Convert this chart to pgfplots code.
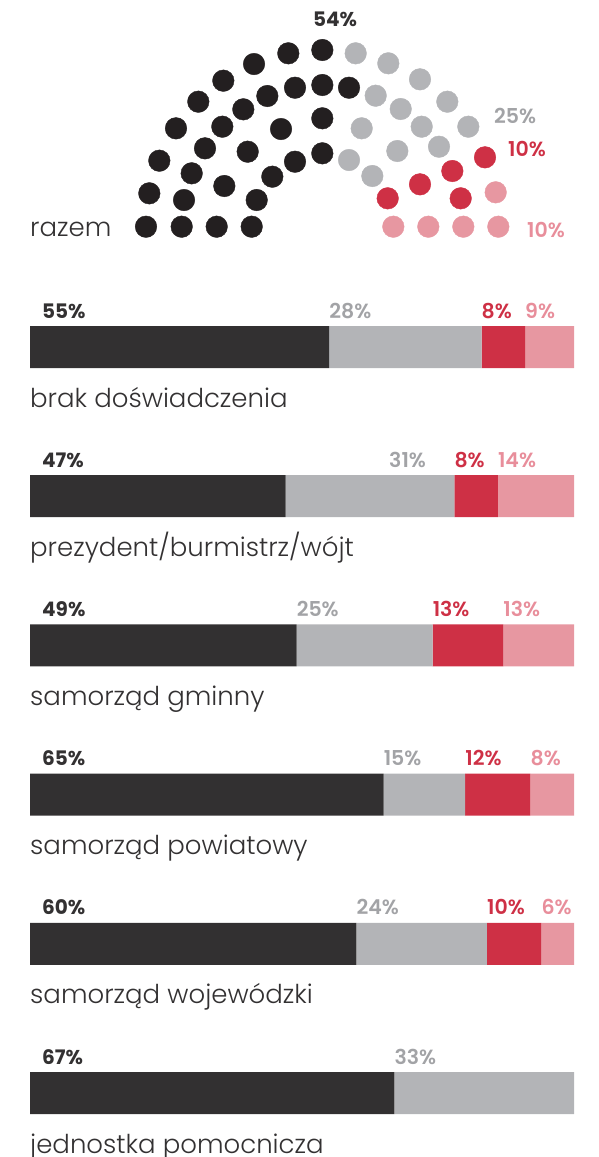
\documentclass[border=0pt]{standalone}
\usepackage{pgfplots}
\pgfplotsset{compat=1.18}
\usepackage{pgfplotstable}
\usepackage{fontspec}
\setmainfont{Poppins}
\newfontfamily\semifont{Poppins SemiBold}
\newfontfamily\lightfont{Poppins Light}
\definecolor{cdot}{HTML}{231F20}
\definecolor{cbar}{HTML}{323031}
\definecolor{cdark}{HTML}{333132}
\definecolor{cgray}{HTML}{B3B4B7}
\definecolor{cgraytxt}{HTML}{A2A3A6}
\definecolor{cred}{HTML}{CE3045}
\definecolor{cpink}{HTML}{E797A1}
\definecolor{cpinktxt}{HTML}{E88E9B}
\definecolor{ctext}{HTML}{333132}

\pgfplotstableread{
x y
146 226.7
149.3 193.3
159.3 160.7
176 128.3
198.3 101.7
223.3 80.7
254 64
288.3 53.3
322.3 50
181.7 226.7
184 200
191.7 173.3
205 148.3
222.3 126.7
243.3 109.3
267.3 96
295 87.7
322.3 85
349 87.7
216.7 226.7
224.3 186
247.7 151.7
281 129
322.3 118.3
251.7 226.7
256.7 200
272.3 176.7
295 161.7
322.3 153.3
}\blackdots

\pgfplotstableread{
x y
355.7 53.3
388.3 63.3
420 79.3
447.3 101.7
468.3 126.7
375.7 95.7
400.7 109
421.7 126.7
439 146.7
361.7 128.3
397.3 151
349 160
372.3 176
}\graydots

\pgfplotstableread{
x y
485 157.3
452.3 171
420 184.3
387.7 198.3
460.7 198.3
}\reddots

\pgfplotstableread{
x y
495.7 192.3
393.3 226.7
428.3 226.7
463.3 226.7
498.3 226.7
}\pinkdots

\newcommand{\pctfont}{\bfseries\fontsize{20}{20}\selectfont}
\newcommand{\pctfontr}{\semifont\fontsize{20.5}{20.5}\selectfont}
\newcommand{\pctfontm}{\semifont\fontsize{20.5}{20.5}\selectfont}
\newcommand{\catfont}{\lightfont\fontsize{26}{26}\selectfont}

\begin{document}
\begin{tikzpicture}
\useasboundingbox (0,0) rectangle (598pt,-1157pt);
\begin{axis}[
  at={(0pt,0pt)}, anchor=north west,
  scale only axis, width=598pt, height=250pt,
  xmin=0, xmax=598, ymin=0, ymax=250, y dir=reverse,
  hide axis, clip=false]
\addplot[only marks, color=cdot, mark=*, mark size=10.8pt, mark options={draw=none, fill=cdot}] table {\blackdots};
\addplot[only marks, color=cgray, mark=*, mark size=10.8pt, mark options={draw=none, fill=cgray}] table {\graydots};
\addplot[only marks, color=cred, mark=*, mark size=10.8pt, mark options={draw=none, fill=cred}] table {\reddots};
\addplot[only marks, color=cpink, mark=*, mark size=10.8pt, mark options={draw=none, fill=cpink}] table {\pinkdots};
\node[anchor=base, font=\pctfont, text=cdark, inner sep=0pt] at (axis cs:335,26) {54\%};
\node[anchor=base west, font=\pctfontm, text=cgraytxt, inner sep=0pt] at (axis cs:494,123) {25\%};
\node[anchor=base west, font=\pctfontr, text=cred, inner sep=0pt] at (axis cs:508,156) {10\%};
\node[anchor=base west, font=\pctfontm, text=cpinktxt, inner sep=0pt] at (axis cs:527,237) {10\%};
\node[anchor=base west, font=\catfont, text=ctext, inner sep=0pt] at (axis cs:30,236) {razem};
\end{axis}

\begin{axis}[
  at={(30pt,-347pt)}, anchor=north west,
  scale only axis, width=544pt, height=746pt,
  xmin=0, xmax=100, ymin=0, ymax=5, y dir=reverse,
  xbar stacked, bar width=42pt,
  hide axis, clip=false]
\addplot[fill=cbar, draw=none] coordinates {(55,0) (47,1) (49,2) (65,3) (60,4) (67,5)};
\addplot[fill=cgray, draw=none] coordinates {(28,0) (31,1) (25,2) (15,3) (24,4) (33,5)};
\addplot[fill=cred, draw=none] coordinates {(8,0) (8,1) (13,2) (12,3) (10,4) (0,5)};
\addplot[fill=cpink, draw=none] coordinates {(9,0) (14,1) (13,2) (8,3) (6,4) (0,5)};
% percentage labels
\foreach \y/\v in {0/55,1/47,2/49,3/65,4/60,5/67}{
  \edef\tmp{\noexpand\node[anchor=base west, font=\noexpand\pctfont, text=cdark, inner sep=0pt, xshift=12pt, yshift=29pt] at (axis cs:0,\y) {\v\noexpand\%};}\tmp
}
\foreach \x/\y/\v in {55/0/28,66/1/31,49/2/25,65/3/15,60/4/24,67/5/33}{
  \edef\tmp{\noexpand\node[anchor=base west, font=\noexpand\pctfontm, text=cgraytxt, inner sep=0pt, yshift=29pt] at (axis cs:\x,\y) {\v\noexpand\%};}\tmp
}
\foreach \x/\y/\v in {83/0/8,78/1/8,74/2/13,80/3/12,84/4/10}{
  \edef\tmp{\noexpand\node[anchor=base west, font=\noexpand\pctfontr, text=cred, inner sep=0pt, yshift=29pt] at (axis cs:\x,\y) {\v\noexpand\%};}\tmp
}
\foreach \x/\y/\v in {91/0/9,86/1/14,87/2/13,92/3/8,94/4/6}{
  \edef\tmp{\noexpand\node[anchor=base west, font=\noexpand\pctfontm, text=cpinktxt, inner sep=0pt, yshift=29pt] at (axis cs:\x,\y) {\v\noexpand\%};}\tmp
}
% category labels
\node[anchor=base west, font=\catfont, text=ctext, inner sep=0pt, yshift=-60pt] at (axis cs:0,0) {brak doświadczenia};
\node[anchor=base west, font=\catfont, text=ctext, inner sep=0pt, yshift=-60pt] at (axis cs:0,1) {prezydent/burmistrz/wójt};
\node[anchor=base west, font=\catfont, text=ctext, inner sep=0pt, yshift=-60pt] at (axis cs:0,2) {samorząd gminny};
\node[anchor=base west, font=\catfont, text=ctext, inner sep=0pt, yshift=-60pt] at (axis cs:0,3) {samorząd powiatowy};
\node[anchor=base west, font=\catfont, text=ctext, inner sep=0pt, yshift=-60pt] at (axis cs:0,4) {samorząd wojewódzki};
\node[anchor=base west, font=\catfont, text=ctext, inner sep=0pt, yshift=-60pt] at (axis cs:0,5) {jednostka pomocnicza};
\end{axis}
\end{tikzpicture}
\end{document}
